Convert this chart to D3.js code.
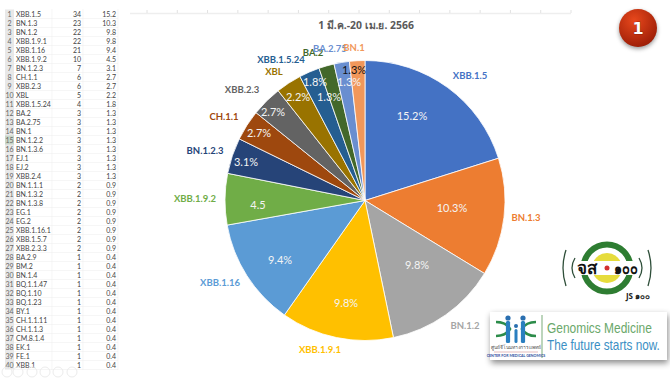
<!DOCTYPE html>
<html>
<head>
<meta charset="utf-8">
<script src="https://cdnjs.cloudflare.com/ajax/libs/d3/7.8.5/d3.min.js"></script>
<style>
  html, body { margin: 0; padding: 0; background: #fff; }
  svg { display: block; }
  text { font-family: Lato, "Open Sans", "Noto Sans", sans-serif; }
</style>
</head>
<body>
<svg id="chart" width="670" height="378"></svg>
<script>
const width = 670, height = 378;

// table on the left
const tableNames = ["XBB.1.5","BN.1.3","BN.1.2","XBB.1.9.1","XBB.1.16","XBB.1.9.2","BN.1.2.3","CH.1.1","XBB.2.3","XBL",
  "XBB.1.5.24","BA.2","BA.2.75","BN.1","BN.1.2.2","BN.1.3.6","EJ.1","EJ.2","XBB.2.4","BN.1.1.1",
  "BN.1.3.2","BN.1.3.8","EG.1","EG.2","XBB.1.16.1","XBB.1.5.7","XBB.2.3.3","BA.2.9","BM.2","BN.1.4",
  "BQ.1.1.47","BQ.1.10","BQ.1.23","BY.1","CH.1.1.11","CH.1.1.3","CM.8.1.4","EK.1","FE.1","XBB.1"];
const tableCounts = [34,23,22,22,21,10,7,6,6,5,4,3,3,3,3,3,3,3,3,2,2,2,2,2,2,2,2,1,1,1,1,1,1,1,1,1,1,1,1,1];
const tablePct = ["15.2","10.3","9.8","9.8","9.4","4.5","3.1","2.7","2.7","2.2","1.8","1.3","1.3","1.3","1.3","1.3","1.3","1.3","1.3",
  "0.9","0.9","0.9","0.9","0.9","0.9","0.9","0.9","0.4","0.4","0.4","0.4","0.4","0.4","0.4","0.4","0.4","0.4","0.4","0.4","0.4"];

// pie, first 14 rows of the table
const lineages = ["XBB.1.5","BN.1.3","BN.1.2","XBB.1.9.1","XBB.1.16","XBB.1.9.2","BN.1.2.3","CH.1.1","XBB.2.3","XBL","XBB.1.5.24","BA.2","BA.2.75","BN.1"];
const counts = [34,23,22,22,21,10,7,6,6,5,4,3,3,3];
const sliceLabels = ["15.2%","10.3%","9.8%","9.8%","9.4%","4.5","3.1%","2.7%","2.7%","2.2%","1.8%","1.3%","1.3%","1.3%"];
const colors = ["#4472c4","#ed7d31","#a5a5a5","#ffc000","#5b9bd5","#70ad47","#264478","#9e480e","#636363","#997300","#255e91","#43682b","#698ed0","#f1975a"];

const svg = d3.select("#chart");

// table
const rowY = d3.scaleBand().domain(d3.range(40)).range([9.5, 369.5]);
const table = svg.append("g");
table.append("rect").attr("x", 5).attr("y", 9.5).attr("width", 9).attr("height", 360).attr("fill", "#e8e8e8");
table.append("rect").attr("x", 5).attr("y", rowY(14)).attr("width", 9).attr("height", rowY.bandwidth()).attr("fill", "#c9d6c9");
const rows = table.selectAll("g").data(d3.range(40)).enter().append("g")
  .attr("transform", d => `translate(0,${rowY(d) + rowY.bandwidth() / 2})`)
  .style("font-size", "7px");
rows.append("line").attr("x1", 14).attr("x2", 118).attr("y1", rowY.bandwidth() / 2).attr("y2", rowY.bandwidth() / 2).attr("stroke", "#f0f0f0").attr("stroke-width", 0.6);
rows.append("text").attr("x", 9.5).attr("y", 2.5).attr("text-anchor", "middle").attr("fill", "#666").text(d => d + 1);
rows.append("text").attr("x", 16).attr("y", 2.5).attr("fill", "#444").text(d => tableNames[d]);
rows.append("text").attr("x", 81).attr("y", 2.5).attr("text-anchor", "end").attr("fill", "#444").text(d => tableCounts[d]);
rows.append("text").attr("x", 116).attr("y", 2.5).attr("text-anchor", "end").attr("fill", "#444").text(d => tablePct[d]);
[52, 83, 118].forEach(x => table.append("line").attr("x1", x).attr("x2", x).attr("y1", 9).attr("y2", 370).attr("stroke", "#f0f0f0").attr("stroke-width", 0.6));

// slide show controls over the bottom of the table
[7, 18, 32, 45, 58, 72].forEach(x => svg.append("circle").attr("cx", x).attr("cy", 372).attr("r", 5)
  .attr("fill", "none").attr("stroke", "#ececec"));

// ruler of the slide editor
const ruler = d3.scaleLinear().domain([0, 14]).range([147, 571]);
svg.append("line").attr("x1", 130).attr("x2", 571).attr("y1", 13.5).attr("y2", 13.5).attr("stroke", "#eeeeee").attr("stroke-width", 1.5);
svg.selectAll("line.rulerTick").data(d3.range(15)).enter().append("line").attr("class", "rulerTick")
  .attr("x1", d => ruler(d)).attr("x2", d => ruler(d)).attr("y1", 10).attr("y2", 13).attr("stroke", "#e2e2e2");

svg.append("text").attr("x", 366).attr("y", 29).attr("text-anchor", "middle")
  .style("font-family", "'Noto Sans', sans-serif").style("font-size", "10.4px").style("font-weight", "bold").attr("fill", "#595959")
  .text("1 มี.ค.-20 เม.ย. 2566");

// pie
const cx = 365, cy = 200.5, r = 140;
const pie = d3.pie().sort(null).value(d => d)(counts);
const arc = d3.arc().innerRadius(0).outerRadius(r);
const g = svg.append("g").attr("transform", `translate(${cx},${cy})`);
g.selectAll("path").data(pie).enter().append("path")
  .attr("d", arc).attr("fill", (d, i) => colors[i]).attr("stroke", "#fff").attr("stroke-width", 0.8);

// label placement, the small slices have their labels pushed apart by hand
const pctPos = [[412,116],[452,208],[417,265],[346,303],[280,260],[258,205],[246,162],[259,133],[273,112],[298,97],[315,82],[329,97],[349,82],[354,70]];
svg.selectAll("text.pct").data(sliceLabels).enter().append("text").attr("class", "pct")
  .attr("x", (d, i) => pctPos[i][0]).attr("y", (d, i) => pctPos[i][1])
  .attr("text-anchor", "middle").attr("dy", "0.35em")
  .style("font-size", "11px")
  .attr("fill", (d, i) => i === 13 ? "#111" : "#f4f4f4")
  .text(d => d);

// names outside the pie
const labelPos = [[470,76],[526,218],[465,326],[320,350],[220,283],[195,199],[205,151],[224,117],[242,90],[274,72],[281,60],[313,53],[330,49],[354,48]];
svg.selectAll("text.name").data(lineages).enter().append("text").attr("class", "name")
  .attr("x", (d, i) => labelPos[i][0]).attr("y", (d, i) => labelPos[i][1])
  .attr("text-anchor", "middle").attr("dy", "0.35em")
  .style("font-size", "9.5px").style("font-weight", "bold")
  .attr("fill", (d, i) => colors[i]).text(d => d);

// badge
const defs = svg.append("defs");
const grad = defs.append("radialGradient").attr("id", "badge").attr("cx", "40%").attr("cy", "30%").attr("r", "75%");
grad.append("stop").attr("offset", "0%").attr("stop-color", "#e8481c");
grad.append("stop").attr("offset", "100%").attr("stop-color", "#9a1c06");
svg.append("circle").attr("cx", 638).attr("cy", 28).attr("r", 19).attr("fill", "url(#badge)")
  .style("filter", "drop-shadow(0px 2px 2px #999)");
svg.append("text").attr("x", 638).attr("y", 34).attr("text-anchor", "middle")
  .style("font-family", "'DejaVu Sans', sans-serif").style("font-size", "16px").style("font-weight", "bold")
  .attr("fill", "#fff").attr("stroke", "#5a1003").attr("stroke-width", 0.5).attr("paint-order", "stroke").text("1");

// station logo
const logo = svg.append("g").attr("transform", "translate(607,268)");
logo.append("circle").attr("r", 23.5).attr("fill", "none").attr("stroke", "#2e7d32").attr("stroke-width", 6);
logo.append("circle").attr("r", 15).attr("fill", "#e6dc3c");
logo.append("circle").attr("r", 7).attr("fill", "#fff");
logo.append("rect").attr("x", -33).attr("y", -7).attr("width", 66).attr("height", 14).attr("fill", "#fff");
logo.append("circle").attr("r", 2.5).attr("fill", "#d32f2f");
logo.append("text").attr("x", -20).attr("y", 6).attr("text-anchor", "middle").style("font-family", "'Noto Sans', sans-serif").style("font-size", "17px").style("font-weight", "bold").attr("fill", "#111").text("จส");
logo.append("text").attr("x", 19).attr("y", 6).attr("text-anchor", "middle").style("font-family", "'Noto Sans', sans-serif").style("font-size", "16px").style("font-weight", "bold").attr("textLength", 24).attr("lengthAdjust", "spacingAndGlyphs").attr("fill", "#111").text("๑๐๐");
[[-44, 18], [-35, 10], [35, 10], [44, 18]].forEach(([x, h]) => {
  logo.append("path").attr("d", `M${x + (x < 0 ? 3 : -3)},${-h} Q${x + (x < 0 ? -3 : 3)},0 ${x + (x < 0 ? 3 : -3)},${h}`).attr("fill", "none").attr("stroke", "#2f4f3a").attr("stroke-width", 1.3);
});
svg.append("text").attr("x", 638).attr("y", 299).attr("text-anchor", "middle").style("font-family", "'Noto Sans', sans-serif").style("font-size", "8px").style("font-weight", "bold").attr("fill", "#222").text("JS ๑๐๐");

// genomics banner
const ban = svg.append("g");
ban.append("rect").attr("x", 490).attr("y", 312).attr("width", 177).attr("height", 48).attr("fill", "#fff").style("filter", "drop-shadow(1px 3px 3px #888)");
ban.append("line").attr("x1", 542).attr("x2", 542).attr("y1", 315).attr("y2", 358).attr("stroke", "#8fb98f").attr("stroke-width", 1.2);

// the banner type is condensed, squeeze each line to the width it has in the picture
function squeezedText(label, y, targetWidth, color) {
  const t = ban.append("text").attr("x", 0).attr("y", 0)
    .style("font-family", "'Liberation Sans', sans-serif").style("font-size", "14px").attr("fill", color).text(label);
  const k = targetWidth / t.node().getComputedTextLength();
  t.attr("transform", `translate(547,${y}) scale(${k},1)`);
}
squeezedText("Genomics Medicine", 333, 105, "#6aa86a");
squeezedText("The future starts now.", 350, 113, "#3b8fc4");

ban.append("text").attr("x", 516).attr("y", 349).attr("text-anchor", "middle").style("font-family", "'Noto Sans', sans-serif").style("font-size", "5px").attr("fill", "#555").text("ศูนย์จีโนมทางการแพทย์");
ban.append("line").attr("x1", 494).attr("x2", 538).attr("y1", 352).attr("y2", 352).attr("stroke", "#d9a0a0").attr("stroke-width", 0.7);
ban.append("text").attr("x", 516).attr("y", 357).attr("text-anchor", "middle").style("font-size", "3.6px").style("font-weight", "bold").attr("fill", "#2e4f9e").text("CENTER FOR MEDICAL GENOMICS");

// helix with the family in front of it
const fam = ban.append("g").attr("transform", "translate(516,329)");
fam.append("path").attr("d", "M-20,-7 Q-10,-7 -6,0 Q-10,7 -20,7").attr("fill", "none").attr("stroke", "#2c8c4a").attr("stroke-width", 2.6);
fam.append("path").attr("d", "M20,-7 Q10,-7 6,0 Q10,7 20,7").attr("fill", "none").attr("stroke", "#2c8c4a").attr("stroke-width", 2.6);
[[-8, -10, 2.6, 4.2, 22], [7, -10, 2.6, 4.2, 22], [0, -2, 2, 3, 14]].forEach(([x, y, hr, bw, bh]) => {
  fam.append("circle").attr("cx", x).attr("cy", y - 1).attr("r", hr).attr("fill", "#2a6fb0");
  fam.append("rect").attr("x", x - bw / 2).attr("y", y + 2).attr("width", bw).attr("height", bh).attr("rx", 1.5).attr("fill", "#2a7fc0");
});
</script>
</body>
</html>
